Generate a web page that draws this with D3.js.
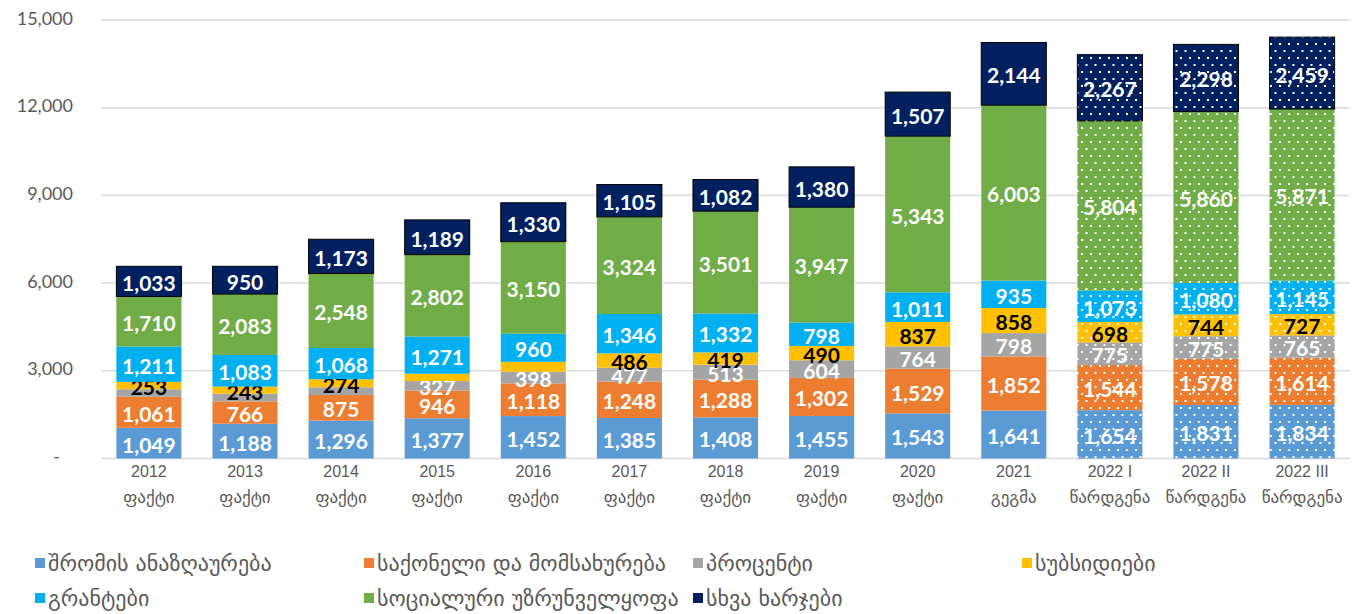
<!DOCTYPE html>
<html>
<head>
<meta charset="utf-8">
<script src="https://cdn.jsdelivr.net/npm/d3@7"></script>
<style>
  body { margin: 0; background: #fff; }
  svg { display: block; }
  .tick-label { font-family: Lato, "DejaVu Sans", sans-serif; font-size: 18px; fill: #595959; }
  .cat-label { font-family: "Liberation Sans", "DejaVu Sans", sans-serif; font-size: 16px; fill: #595959; }
  .cat-kind { font-family: "DejaVu Sans", sans-serif; font-size: 17px; fill: #595959; }
  .bar-label { font-family: Lato, "DejaVu Sans", sans-serif; font-size: 21px; font-weight: bold; }
  .legend-text { font-family: "DejaVu Sans", sans-serif; font-size: 22px; fill: #595959; }
</style>
</head>
<body>
<svg id="chart"></svg>
<script>
const W = 1360, H = 614;

const years = ['2012', '2013', '2014', '2015', '2016', '2017', '2018', '2019', '2020', '2021', '2022 I', '2022 II', '2022 III'];
const kinds = ['ფაქტი', 'ფაქტი', 'ფაქტი', 'ფაქტი', 'ფაქტი', 'ფაქტი', 'ფაქტი', 'ფაქტი', 'ფაქტი', 'გეგმა', 'წარდგენა', 'წარდგენა', 'წარდგენა'];

const compensation = [1049, 1188, 1296, 1377, 1452, 1385, 1408, 1455, 1543, 1641, 1654, 1831, 1834];
const goods = [1061, 766, 875, 946, 1118, 1248, 1288, 1302, 1529, 1852, 1544, 1578, 1614];
const interest = [258, 262, 266, 327, 398, 477, 513, 604, 764, 798, 775, 775, 765];
const subsidies = [253, 243, 274, 250, 340, 486, 419, 490, 837, 858, 698, 744, 727];
const grants = [1211, 1083, 1068, 1271, 960, 1346, 1332, 798, 1011, 935, 1073, 1080, 1145];
const social = [1710, 2083, 2548, 2802, 3150, 3324, 3501, 3947, 5343, 6003, 5804, 5860, 5871];
const other = [1033, 950, 1173, 1189, 1330, 1105, 1082, 1380, 1507, 2144, 2267, 2298, 2459];

const yTicks = [0, 3000, 6000, 9000, 12000, 15000];
// labels that the reference leaves out (series key, category index)
const hiddenLabels = ['interest-0', 'interest-1', 'interest-2', 'subsidies-3', 'subsidies-4'];
// forecast columns drawn with a dotted fill
const dottedCats = ['2022 I', '2022 II', '2022 III'];

const series = [
  {key: 'compensation', name: 'შრომის ანაზღაურება', values: compensation, color: '#5B9BD5', text: '#fff'},
  {key: 'goods', name: 'საქონელი და მომსახურება', values: goods, color: '#ED7D31', text: '#fff'},
  {key: 'interest', name: 'პროცენტი', values: interest, color: '#A5A5A5', text: '#fff'},
  {key: 'subsidies', name: 'სუბსიდიები', values: subsidies, color: '#FFC000', text: '#000'},
  {key: 'grants', name: 'გრანტები', values: grants, color: '#00B0F0', text: '#fff'},
  {key: 'social', name: 'სოციალური უზრუნველყოფა', values: social, color: '#70AD47', text: '#fff'},
  {key: 'other', name: 'სხვა ხარჯები', values: other, color: '#002060', text: '#fff'}
];

const margin = {left: 101, right: 10, top: 20, bottom: 155};
const plotRight = 1350;
const plotBottom = 458.5;

const svg = d3.select('#chart')
  .attr('width', W)
  .attr('height', H);

const defs = svg.append('defs');
series.forEach(s => {
  let p = defs.append('pattern')
    .attr('id', 'dots-' + s.key)
    .attr('patternUnits', 'userSpaceOnUse')
    .attr('width', 9)
    .attr('height', 14);
  p.append('rect').attr('width', 9).attr('height', 14).attr('fill', s.color);
  p.append('rect').attr('x', 1).attr('y', 1).attr('width', 2).attr('height', 2).attr('fill', '#fff');
  p.append('rect').attr('x', 5.5).attr('y', 8).attr('width', 2).attr('height', 2).attr('fill', '#fff');
});

const x = d3.scaleBand()
  .domain(years)
  .range([margin.left, plotRight])
  .paddingInner(0.323)
  .paddingOuter(0.16);

const y = d3.scaleLinear()
  .domain([0, 15000])
  .range([plotBottom, margin.top]);

// gridlines
svg.append('g')
  .selectAll('line')
  .data(yTicks)
  .enter()
  .append('line')
  .attr('x1', margin.left)
  .attr('x2', plotRight)
  .attr('y1', d => y(d))
  .attr('y2', d => y(d))
  .attr('stroke', '#D9D9D9')
  .attr('stroke-width', 1.5);

svg.append('g')
  .selectAll('text')
  .data(yTicks)
  .enter()
  .append('text')
  .attr('class', 'tick-label')
  .attr('text-anchor', 'end')
  .attr('dominant-baseline', 'middle')
  .attr('x', d => d === 0 ? 60 : 73)
  .attr('y', d => y(d))
  .text(d => d === 0 ? '-' : d3.format(',')(d));

// stacked bars
const table = years.map((yr, i) => {
  let row = {year: yr, idx: i};
  series.forEach(s => row[s.key] = s.values[i]);
  return row;
});
const stacked = d3.stack().keys(series.map(s => s.key))(table);

const layers = svg.append('g')
  .selectAll('g')
  .data(stacked)
  .enter()
  .append('g');

layers.selectAll('rect')
  .data((d, i) => d.map(seg => ({seg, s: series[i]})))
  .enter()
  .append('rect')
  .attr('x', d => x(d.seg.data.year))
  .attr('width', x.bandwidth())
  .attr('y', d => y(d.seg[1]))
  .attr('height', d => y(d.seg[0]) - y(d.seg[1]))
  .attr('fill', d => dottedCats.includes(d.seg.data.year) ? `url(#dots-${d.s.key})` : d.s.color)
  .attr('stroke', d => d.s.key === 'other' ? '#000' : 'none')
  .attr('stroke-width', 1);

layers.selectAll('text')
  .data((d, i) => d.map(seg => ({seg, s: series[i]}))
    .filter(d => !hiddenLabels.includes(d.s.key + '-' + d.seg.data.idx)))
  .enter()
  .append('text')
  .attr('class', 'bar-label')
  .attr('text-anchor', 'middle')
  .attr('dominant-baseline', 'central')
  .attr('x', d => x(d.seg.data.year) + x.bandwidth() / 2)
  .attr('y', d => (y(d.seg[0]) + y(d.seg[1])) / 2 + 1)
  .attr('fill', d => d.s.text)
  .text(d => d3.format(',')(d.seg.data[d.s.key]));

// category labels
let cats = svg.append('g')
  .selectAll('g')
  .data(years)
  .enter()
  .append('g')
  .attr('transform', d => `translate(${x(d) + x.bandwidth() / 2}, 0)`);

cats.append('text')
  .attr('class', 'cat-label')
  .attr('text-anchor', 'middle')
  .attr('y', 477)
  .text(d => d);

cats.append('text')
  .attr('class', 'cat-kind')
  .attr('text-anchor', 'middle')
  .attr('y', 503)
  .text((d, i) => kinds[i]);

// legend
const legendCols = [35, 364, 693, 1022];
const legendRows = [563, 598];
let legend = svg.append('g')
  .selectAll('g')
  .data(series)
  .enter()
  .append('g')
  .attr('transform', (d, i) => `translate(${legendCols[i % 4]}, ${legendRows[Math.floor(i / 4)]})`);

legend.append('rect')
  .attr('x', 0)
  .attr('y', -5)
  .attr('width', 10)
  .attr('height', 10)
  .attr('fill', d => d.color);

legend.append('text')
  .attr('class', 'legend-text')
  .attr('x', 13)
  .attr('dominant-baseline', 'central')
  .text(d => d.name);
</script>
</body>
</html>
